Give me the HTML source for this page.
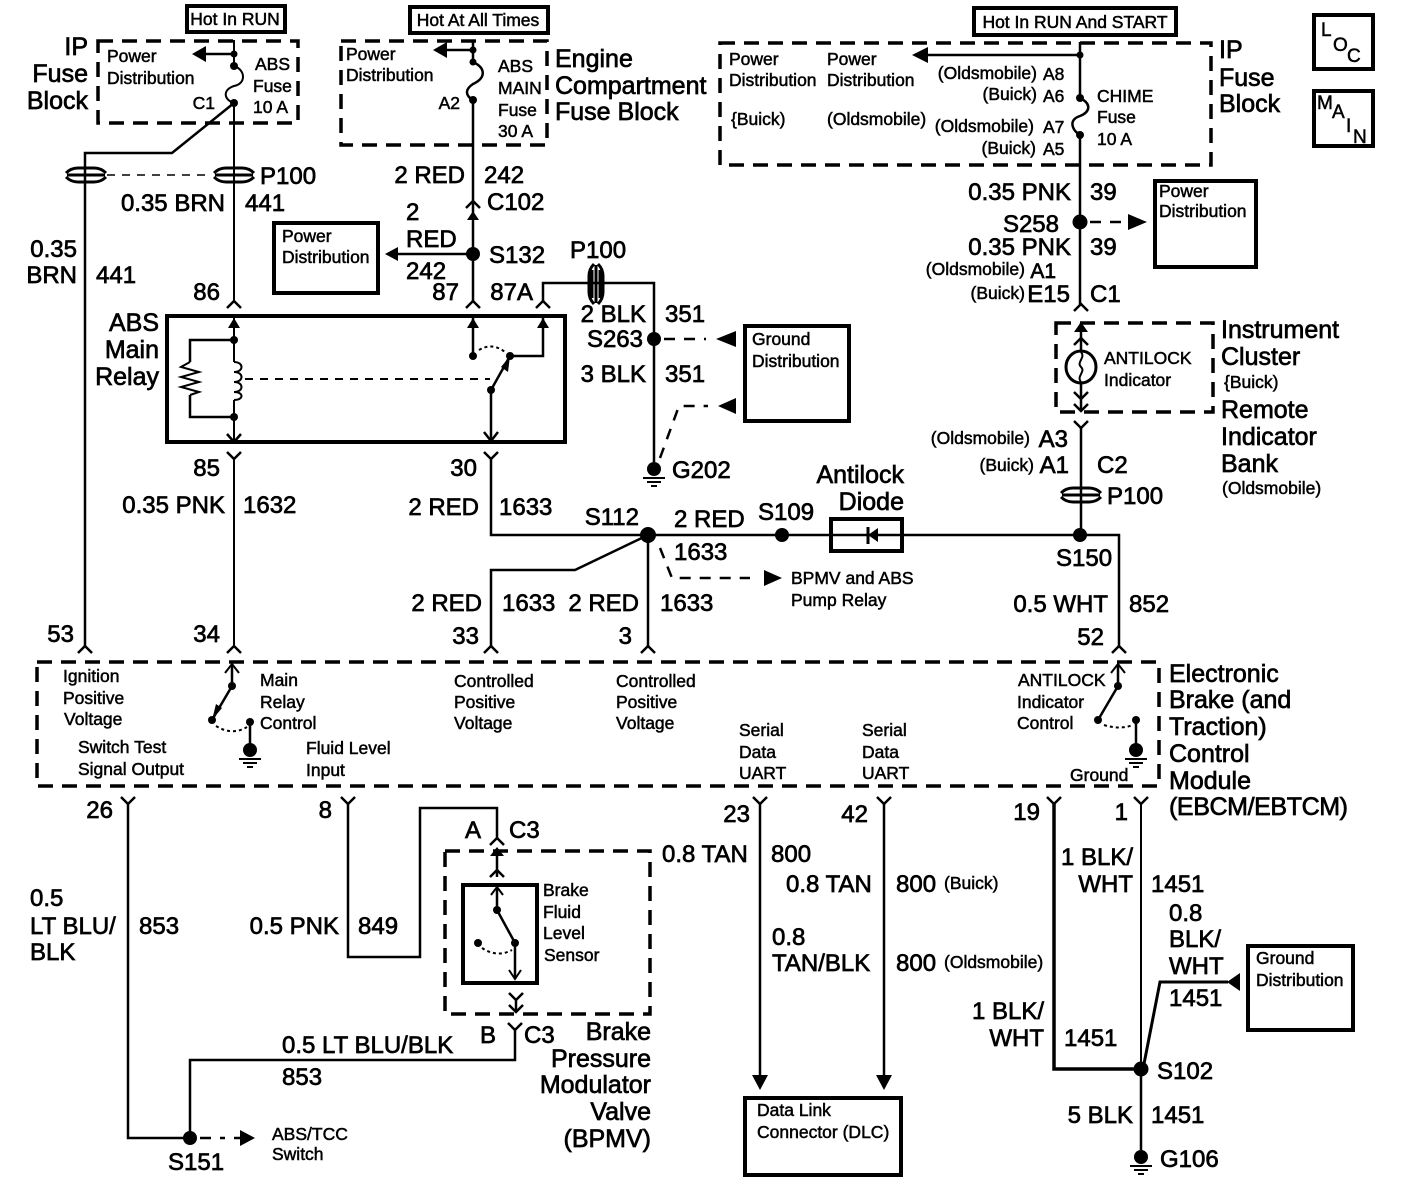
<!DOCTYPE html>
<html><head><meta charset="utf-8"><style>
html,body{margin:0;padding:0;background:#fff}
svg{display:block}
text{font-family:"Liberation Sans",sans-serif;fill:#000;stroke:#000}
.l text,text.l{font-size:24px;stroke-width:.7}
.h text{font-size:25px;stroke-width:.7}
.s text{font-size:17.5px;stroke-width:.5}
.e{text-anchor:end}
.w{fill:none;stroke:#000;stroke-width:2.5}
.t{fill:none;stroke:#000;stroke-width:2}
.b{fill:none;stroke:#000;stroke-width:4}
.d{fill:none;stroke:#000;stroke-width:3.5;stroke-dasharray:15 9}
.n{fill:none;stroke:#000;stroke-width:2.5;stroke-dasharray:11 9}
.o{fill:none;stroke:#000;stroke-width:2;stroke-dasharray:3 3}
.f{fill:#000;stroke:none}
</style></head><body>
<svg width="1408" height="1186" viewBox="0 0 1408 1186" xmlns="http://www.w3.org/2000/svg">
<rect width="1408" height="1186" fill="#fff"/>
<defs>
<path id="up" d="M-7,7L0,0L7,7" fill="none" stroke="#000" stroke-width="2.5"/>
<path id="dn" d="M-7,-7L0,0L7,-7" fill="none" stroke="#000" stroke-width="2.5"/>
<g id="gnd"><circle r="7" cy="0" class="f"/><path d="M-11,9H11M-7,13H7M-3,17H3" stroke="#000" stroke-width="2"/></g>
<g id="pc"><path d="M-20,-2Q-15,-7 -8,-7H8Q15,-7 20,-2M-20,2Q-15,7 -8,7H8Q15,7 20,2" fill="none" stroke="#000" stroke-width="3"/><path d="M-19,0H19" stroke="#000" stroke-width="3"/></g>
</defs>

<!-- solid boxes -->
<rect x="187" y="6" width="98" height="26" class="b"/>
<rect x="410" y="7" width="138" height="26" class="b"/>
<rect x="974" y="8" width="202" height="27" class="b"/>
<rect x="1314" y="15" width="59" height="54" class="b"/>
<rect x="1314" y="91" width="59" height="55" class="b"/>
<rect x="274" y="223" width="104" height="70" class="b"/>
<rect x="1155" y="181" width="101" height="86" class="b"/>
<rect x="745" y="326" width="104" height="95" class="b"/>
<rect x="1248" y="946" width="105" height="84" class="b"/>
<rect x="745" y="1098" width="156" height="77" class="b"/>
<rect x="167" y="316" width="398" height="126" class="b"/>
<rect x="831" y="519" width="71" height="32" class="b"/>
<rect x="463" y="885" width="74" height="98" class="b"/>

<!-- dashed boxes -->
<rect x="98" y="41" width="200" height="82" class="d"/>
<rect x="341" y="41" width="206" height="104" class="d"/>
<rect x="720" y="43" width="491" height="122" class="d"/>
<rect x="1056" y="323" width="157" height="89" class="d"/>
<rect x="37" y="662" width="1122" height="124" class="d"/>
<rect x="445" y="851" width="205" height="163" class="d"/>

<!-- top-left fuse -->
<path class="t" d="M234,40V66C246,70 246,84 234,86C222,90 224,100 234,103V301"/>
<path class="w" d="M234,54H205"/>
<path class="f" d="M192,54L206,46V62Z"/>
<circle cx="234" cy="54" r="3.5" class="f"/><circle cx="234" cy="66" r="4" class="f"/><circle cx="234" cy="103" r="4" class="f"/>
<path class="w" d="M234,103L172,153H85V646"/>
<use href="#pc" x="86" y="175"/><use href="#pc" x="234" y="175"/>
<path class="n" d="M107,175H210" style="stroke-width:1.5;stroke-dasharray:8 7"/>
<use href="#up" x="234" y="301"/><use href="#up" x="85" y="646"/>

<!-- engine fuse -->
<path class="w" d="M473,40V62C486,68 486,78 473,84C464,90 466,96 473,100V301"/>
<path class="w" d="M473,50H445"/>
<path class="f" d="M433,50L447,42V58Z"/>
<circle cx="473" cy="50" r="3.5" class="f"/><circle cx="473" cy="62" r="3.5" class="f"/><circle cx="473" cy="100" r="4" class="f"/>
<use href="#up" x="473" y="201"/>
<path class="f" d="M473,211L467,220H479Z"/>
<circle cx="473" cy="254" r="7" class="f"/>
<path class="w" d="M473,254H395"/>
<path class="f" d="M385,254L398,247V261Z"/>
<use href="#up" x="473" y="301"/>

<!-- 87A -->
<use href="#up" x="543" y="301"/>
<path class="w" d="M543,301V283H654V462"/>
<use href="#pc" transform="translate(596,284) rotate(90)"/>
<path d="M592,270V298M600,270V298" stroke="#000" stroke-width="3"/>
<circle cx="654" cy="339" r="7" class="f"/>
<path class="n" d="M664,339H706"/>
<path class="f" d="M716,339L736,331V347Z"/>
<path class="n" d="M660,458L679,406H708"/>
<path class="f" d="M718,406L736,398V414Z"/>
<use href="#gnd" x="654" y="469"/>

<!-- relay internals -->
<path class="t" d="M234,318V362M234,400V442"/>
<path class="f" d="M234,318L228,328H240Z"/>
<path class="w" d="M234,340H190V362M190,395V417H234M227,434L234,442L241,434"/>
<path class="t" d="M190,362L181,367L199,372L181,377L199,382L181,387L199,392L190,395"/>
<path class="t" d="M234,362C244,362 244,372 234,372C244,372 244,382 234,382C244,382 244,392 234,392C244,392 244,400 234,400"/>
<circle cx="234" cy="340" r="4" class="f"/><circle cx="234" cy="417" r="4" class="f"/>
<path class="n" d="M245,379H490" style="stroke-width:2;stroke-dasharray:8 7"/>
<path class="w" d="M473,318V356M510,356H543V318M491,390L510,356M491,390V440"/>
<path class="f" d="M473,318L467,328H479ZM543,318L537,328H549ZM510,356L501,367L508,372Z"/>
<path class="w" d="M484,432L491,441L498,432"/>
<circle cx="473" cy="356" r="4" class="f"/><circle cx="510" cy="356" r="4" class="f"/><circle cx="491" cy="390" r="4" class="f"/>
<path class="o" d="M479,350Q492,342 505,352"/>

<!-- below relay -->
<use href="#dn" x="234" y="459"/><use href="#dn" x="491" y="459"/>
<path class="t" d="M234,459V646"/>
<path class="w" d="M491,459V535H1119V646"/>
<path class="w" d="M648,535L575,570H491V646M648,535V646"/>
<circle cx="648" cy="535" r="8" class="f"/><circle cx="782" cy="535" r="7" class="f"/><circle cx="1080" cy="535" r="7" class="f"/>
<path d="M868,527V544" stroke="#000" stroke-width="3"/>
<path class="f" d="M868,535L878,528V542Z"/>
<path class="n" d="M660,548L672,578H750"/>
<path class="f" d="M782,578L764,570V586Z"/>
<use href="#up" x="234" y="646"/><use href="#up" x="491" y="646"/><use href="#up" x="648" y="646"/><use href="#up" x="1119" y="646"/>

<!-- right fuse -->
<path class="w" d="M1080,42V98C1092,104 1090,112 1080,116C1068,120 1072,130 1080,135V305"/>
<path class="w" d="M1080,55H925"/>
<path class="f" d="M912,55L928,47V63Z"/>
<circle cx="1080" cy="55" r="3.5" class="f"/><circle cx="1080" cy="98" r="4" class="f"/><circle cx="1080" cy="135" r="4" class="f"/>
<circle cx="1080" cy="222" r="7.5" class="f"/>
<path class="n" d="M1090,222H1125"/>
<path class="f" d="M1147,222L1128,214V230Z"/>
<use href="#up" x="1081" y="304"/>
<path class="w" d="M1081,323V352M1081,382V411"/>
<path class="f" d="M1081,322L1074,332H1088Z"/>
<use href="#up" x="1081" y="338"/>
<use href="#dn" x="1081" y="399"/>
<use href="#dn" x="1081" y="411"/>
<ellipse cx="1081" cy="367" rx="15" ry="16" fill="#fff" stroke="#000" stroke-width="3"/>
<path class="t" d="M1081,352C1086,358 1076,362 1081,367C1086,372 1076,376 1081,382"/>
<use href="#dn" x="1081" y="428"/>
<path class="w" d="M1081,428V535"/>
<use href="#pc" x="1081" y="495"/>

<!-- EBCM internals left -->
<path class="w" d="M232,664V686L212,720"/>
<path class="t" d="M225,673L232,664L239,673"/>
<circle cx="232" cy="686" r="4" class="f"/><circle cx="212" cy="720" r="4" class="f"/>
<path class="f" d="M212,720L222,708L216,704Z"/>
<circle cx="250" cy="722" r="4" class="f"/>
<path class="o" d="M216,726Q232,736 247,727"/>
<path class="w" d="M250,722V750"/>
<use href="#gnd" x="250" y="750"/>
<!-- EBCM internals right -->
<path class="w" d="M1118,664V686L1098,720"/>
<path class="t" d="M1111,673L1118,664L1125,673"/>
<circle cx="1118" cy="686" r="4" class="f"/><circle cx="1098" cy="720" r="4" class="f"/>
<circle cx="1136" cy="720" r="4" class="f"/>
<path class="o" d="M1104,725Q1120,730 1133,725"/>
<path class="w" d="M1136,720V748"/>
<use href="#gnd" x="1136" y="750"/>

<!-- below EBCM -->
<use href="#dn" x="128" y="804"/><use href="#dn" x="348" y="804"/><use href="#dn" x="760" y="804"/><use href="#dn" x="884" y="804"/><use href="#dn" x="1054" y="804"/><use href="#dn" x="1141" y="804"/>
<path class="w" d="M128,804V1138H190"/>
<circle cx="190" cy="1138" r="7" class="f"/>
<path class="w" d="M190,1138V1060H515V1028"/>
<path class="n" d="M200,1138H225"/>
<path class="f" d="M255,1138L240,1130V1146Z"/>
<path class="w" d="M234,1138H240"/>
<path class="w" d="M348,804V957H420V808H497V840"/>
<use href="#up" x="497" y="838"/>
<use href="#dn" x="515" y="1030"/>
<path class="w" d="M760,804V1080"/>
<path class="f" d="M760,1090L752,1075H768Z"/>
<path class="w" d="M884,804V1080"/>
<path class="f" d="M884,1090L876,1075H892Z"/>
<path d="M1054,804V1069H1141" fill="none" stroke="#000" stroke-width="3.5"/>
<path class="t" d="M1141,804V1069"/>
<path class="w" d="M1141,1069V1150"/>
<path d="M1143,1069L1160,982H1228" fill="none" stroke="#000" stroke-width="3"/>
<path class="f" d="M1227,982L1240,973V991Z"/>
<circle cx="1141" cy="1069" r="7.5" class="f"/>
<use href="#gnd" x="1141" y="1157"/>

<!-- BPMV internals -->
<path class="w" d="M497,851V877"/>
<path class="f" d="M497,847L490,856H504Z"/>
<use href="#up" x="497" y="870"/>
<path class="w" d="M497,885V910L515,943V978"/>
<path class="t" d="M491,895L497,887L503,895M509,970L515,979L521,970"/>
<circle cx="497" cy="910" r="4" class="f"/><circle cx="515" cy="943" r="4" class="f"/><circle cx="478" cy="943" r="4" class="f"/>
<path class="o" d="M482,948Q497,958 512,950"/>
<use href="#dn" x="516" y="1000"/>
<use href="#dn" x="516" y="1012"/>
<path class="w" d="M516,1000V1012"/>

<!-- LARGE TEXT -->
<g class="h">
<text x="88" y="55" class="e">IP</text><text x="88" y="82" class="e">Fuse</text><text x="88" y="109" class="e">Block</text>
<text x="555" y="67">Engine</text><text x="555" y="94">Compartment</text><text x="555" y="120">Fuse Block</text>
<text x="1219" y="58">IP</text><text x="1219" y="86">Fuse</text><text x="1219" y="112">Block</text>
<text x="159" y="331" class="e">ABS</text><text x="159" y="358" class="e">Main</text><text x="159" y="385" class="e">Relay</text>
<text x="1221" y="338">Instrument</text><text x="1221" y="365">Cluster</text>
<text x="1221" y="418">Remote</text><text x="1221" y="445">Indicator</text><text x="1221" y="472">Bank</text>
<text x="904" y="483" class="e">Antilock</text><text x="904" y="510" class="e">Diode</text>
<text x="1169" y="682">Electronic</text><text x="1169" y="708">Brake (and</text><text x="1169" y="735">Traction)</text><text x="1169" y="762">Control</text><text x="1169" y="789">Module</text><text x="1169" y="815" textLength="179">(EBCM/EBTCM)</text>
<text x="651" y="1040" class="e">Brake</text><text x="651" y="1067" class="e">Pressure</text><text x="651" y="1093" class="e">Modulator</text><text x="651" y="1120" class="e">Valve</text><text x="651" y="1147" class="e">(BPMV)</text>
</g>

<g class="l">
<text x="260" y="184">P100</text>
<text x="225" y="211" class="e">0.35 BRN</text><text x="245" y="211">441</text>
<text x="77" y="257" class="e">0.35</text><text x="77" y="283" class="e">BRN</text><text x="96" y="283">441</text>
<text x="220" y="300" class="e">86</text>
<text x="465" y="183" class="e">2 RED</text><text x="484" y="183">242</text>
<text x="487" y="210">C102</text>
<text x="406" y="220">2</text><text x="406" y="247">RED</text><text x="406" y="279">242</text>
<text x="489" y="263">S132</text>
<text x="459" y="300" class="e">87</text>
<text x="533" y="300" class="e">87A</text>
<text x="570" y="258">P100</text>
<text x="646" y="322" class="e">2 BLK</text><text x="665" y="322">351</text>
<text x="643" y="347" class="e">S263</text>
<text x="646" y="382" class="e">3 BLK</text><text x="665" y="382">351</text>
<text x="672" y="478">G202</text>
<text x="220" y="476" class="e">85</text>
<text x="225" y="513" class="e">0.35 PNK</text><text x="243" y="513">1632</text>
<text x="477" y="476" class="e">30</text>
<text x="479" y="515" class="e">2 RED</text><text x="499" y="515">1633</text>
<text x="639" y="525" class="e">S112</text>
<text x="674" y="527">2 RED</text><text x="674" y="560">1633</text>
<text x="758" y="520">S109</text>
<text x="482" y="611" class="e">2 RED</text><text x="502" y="611">1633</text>
<text x="639" y="611" class="e">2 RED</text><text x="660" y="611">1633</text>
<text x="479" y="644" class="e">33</text><text x="632" y="644" class="e">3</text>
<text x="74" y="642" class="e">53</text><text x="220" y="642" class="e">34</text>
<text x="1071" y="200" class="e">0.35 PNK</text><text x="1090" y="200">39</text>
<text x="1059" y="232" class="e">S258</text>
<text x="1071" y="255" class="e">0.35 PNK</text><text x="1090" y="255">39</text>
<text x="1056" y="278" class="e" style="font-size:21px">A1</text>
<text x="1070" y="302" class="e">E15</text><text x="1090" y="302">C1</text>
<text x="1068" y="447" class="e">A3</text><text x="1069" y="473" class="e">A1</text>
<text x="1097" y="473">C2</text>
<text x="1107" y="504">P100</text>
<text x="1056" y="566">S150</text>
<text x="1108" y="612" class="e">0.5 WHT</text><text x="1129" y="612">852</text>
<text x="1104" y="645" class="e">52</text>
<text x="113" y="818" class="e">26</text>
<text x="332" y="818" class="e">8</text>
<text x="465" y="838">A</text><text x="509" y="838">C3</text>
<text x="30" y="906">0.5</text><text x="30" y="934">LT BLU/</text><text x="30" y="960">BLK</text>
<text x="139" y="934">853</text>
<text x="339" y="934" class="e">0.5 PNK</text><text x="358" y="934">849</text>
<text x="480" y="1043">B</text><text x="524" y="1043">C3</text>
<text x="282" y="1053">0.5 LT BLU/BLK</text>
<text x="282" y="1085">853</text>
<text x="168" y="1170">S151</text>
<text x="750" y="822" class="e">23</text><text x="868" y="822" class="e">42</text>
<text x="662" y="862">0.8 TAN</text><text x="771" y="862">800</text>
<text x="786" y="892">0.8 TAN</text><text x="896" y="892">800</text>
<text x="772" y="945">0.8</text><text x="772" y="971">TAN/BLK</text><text x="896" y="971">800</text>
<text x="1040" y="820" class="e">19</text><text x="1128" y="820" class="e">1</text>
<text x="1133" y="865" class="e">1 BLK/</text><text x="1133" y="892" class="e">WHT</text><text x="1151" y="892">1451</text>
<text x="1169" y="921">0.8</text><text x="1169" y="947">BLK/</text><text x="1169" y="974">WHT</text><text x="1169" y="1006">1451</text>
<text x="1044" y="1019" class="e">1 BLK/</text><text x="1044" y="1046" class="e">WHT</text><text x="1064" y="1046">1451</text>
<text x="1157" y="1079">S102</text>
<text x="1133" y="1123" class="e">5 BLK</text><text x="1151" y="1123">1451</text>
<text x="1160" y="1167">G106</text>
</g>

<g class="s">
<text x="235" y="25" text-anchor="middle">Hot In RUN</text>
<text x="478" y="26" text-anchor="middle">Hot At All Times</text>
<text x="1075" y="28" text-anchor="middle">Hot In RUN And START</text>
<text x="107" y="62">Power</text><text x="107" y="84">Distribution</text>
<text x="255" y="70">ABS</text><text x="253" y="92">Fuse</text><text x="253" y="113">10 A</text>
<text x="215" y="109" class="e">C1</text>
<text x="346" y="60">Power</text><text x="346" y="81">Distribution</text>
<text x="460" y="109" class="e">A2</text>
<text x="498" y="72">ABS</text><text x="498" y="94">MAIN</text><text x="498" y="116">Fuse</text><text x="498" y="137">30 A</text>
<text x="282" y="242">Power</text><text x="282" y="263">Distribution</text>
<text x="729" y="65">Power</text><text x="729" y="86">Distribution</text><text x="731" y="125">{Buick)</text>
<text x="827" y="65">Power</text><text x="827" y="86">Distribution</text><text x="827" y="125">(Oldsmobile)</text>
<text x="1037" y="79" class="e">(Oldsmobile)</text><text x="1043" y="80">A8</text>
<text x="1037" y="100" class="e">(Buick)</text><text x="1043" y="102">A6</text>
<text x="1034" y="132" class="e">(Oldsmobile)</text><text x="1043" y="133">A7</text>
<text x="1036" y="154" class="e">(Buick)</text><text x="1043" y="155">A5</text>
<text x="1097" y="102">CHIME</text><text x="1097" y="123">Fuse</text><text x="1097" y="145">10 A</text>
<text x="1159" y="197">Power</text><text x="1159" y="217">Distribution</text>
<text x="1025" y="275" class="e">(Oldsmobile)</text>
<text x="1025" y="299" class="e">(Buick)</text>
<text x="752" y="345">Ground</text><text x="752" y="367">Distribution</text>
<text x="1104" y="364">ANTILOCK</text><text x="1104" y="386">Indicator</text>
<text x="1224" y="388">{Buick)</text>
<text x="1222" y="494">(Oldsmobile)</text>
<text x="1030" y="444" class="e">(Oldsmobile)</text>
<text x="1034" y="471" class="e">(Buick)</text>
<text x="791" y="584">BPMV and ABS</text><text x="791" y="606">Pump Relay</text>
<text x="63" y="682">Ignition</text><text x="63" y="704">Positive</text><text x="64" y="725">Voltage</text>
<text x="78" y="753">Switch Test</text><text x="78" y="775">Signal Output</text>
<text x="260" y="686">Main</text><text x="260" y="708">Relay</text><text x="260" y="729">Control</text>
<text x="306" y="754">Fluid Level</text><text x="306" y="776">Input</text>
<text x="454" y="687">Controlled</text><text x="454" y="708">Positive</text><text x="454" y="729">Voltage</text>
<text x="616" y="687">Controlled</text><text x="616" y="708">Positive</text><text x="616" y="729">Voltage</text>
<text x="739" y="736">Serial</text><text x="739" y="758">Data</text><text x="739" y="779">UART</text>
<text x="862" y="736">Serial</text><text x="862" y="758">Data</text><text x="862" y="779">UART</text>
<text x="1018" y="686">ANTILOCK</text><text x="1017" y="708">Indicator</text><text x="1017" y="729">Control</text>
<text x="1070" y="781">Ground</text>
<text x="543" y="896">Brake</text><text x="543" y="918">Fluid</text><text x="543" y="939">Level</text><text x="544" y="961">Sensor</text>
<text x="272" y="1140">ABS/TCC</text><text x="272" y="1160">Switch</text>
<text x="944" y="889">(Buick)</text>
<text x="944" y="968">(Oldsmobile)</text>
<text x="1256" y="964">Ground</text><text x="1256" y="986">Distribution</text>
<text x="757" y="1116">Data Link</text><text x="757" y="1138">Connector (DLC)</text>
<g style="font-size:19px">
<text x="1321" y="36" style="font-size:19px">L</text><text x="1333" y="51" style="font-size:19px">O</text><text x="1347" y="62" style="font-size:19px">C</text>
<text x="1317" y="109" style="font-size:19px">M</text><text x="1332" y="118" style="font-size:19px">A</text><text x="1346" y="132" style="font-size:19px">I</text><text x="1353" y="143" style="font-size:19px">N</text>
</g>
</g>
</svg>
</body></html>
